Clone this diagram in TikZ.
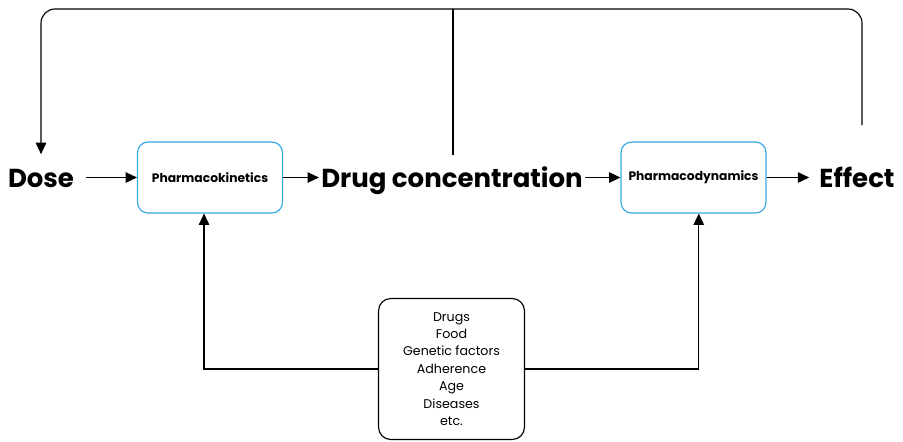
\documentclass[tikz,border=0pt]{standalone}
\usepackage{fontspec}
\setmainfont{Poppins}
\usetikzlibrary{arrows.meta}
\usetikzlibrary{positioning}
\definecolor{stageblue}{RGB}{52,168,224}

\begin{document}
\begin{tikzpicture}[x=0.02cm, y=-0.02cm,
    >={Triangle[length=6.5pt,width=6pt]},
    every path/.style={line width=0.65pt},
    term/.style={font=\bfseries\fontsize{14.8}{18}\selectfont, inner sep=0pt, anchor=base},
    stage/.style={draw=stageblue, rounded corners=6pt, minimum width=2.9cm, minimum height=1.42cm, font=\bfseries\fontsize{7}{9}\selectfont},
    factorbox/.style={draw, rounded corners=7pt, minimum width=2.92cm, minimum height=2.82cm, align=center, font=\fontsize{7.2}{9.9}\selectfont}]
    \useasboundingbox (0,0) rectangle (903,441);

    % Main chain
    \node[term] (dose) at (41,187) {Dose};
    \node[stage] (pk) at (210,177.5) {Pharmacokinetics};
    \node[term] (conc) at (452,187) {Drug concentration};
    \node[stage] (pd) at (693.5,177.5) {Pharmacodynamics};
    \node[term] (effect) at (857,187) {Effect};

    % Influencing factors
    \node[factorbox] (factors) at (451.5,369) {Drugs\\Food\\Genetic factors\\Adherence\\Age\\Diseases\\etc.};

    % Arrows along the chain
    \draw[->, shorten <=6.5pt] (dose.east |- pk) -- (pk);
    \draw[->, shorten >=1pt] (pk) -- (conc.west |- pk);
    \draw[->, shorten <=1pt] (conc.east |- pd) -- (pd);
    \draw[->, shorten >=5.5pt] (pd) -- (effect.west |- pd);

    % Feedback loop along the top
    \coordinate (loop) at (862,125);
    \coordinate (top) at (453,9);
    \coordinate (join) at (453,155);
    \draw[->, rounded corners=8pt] (loop) |- (top) -| ([yshift=8pt]dose.north);
    \draw (join) -- (top);

    % Factors acting on both stages
    \draw[->] (factors.west) -| ([xshift=-3.4pt]pk.south);
    \draw[->] (factors.east) -| ([xshift=3pt]pd.south);
\end{tikzpicture}
\end{document}
